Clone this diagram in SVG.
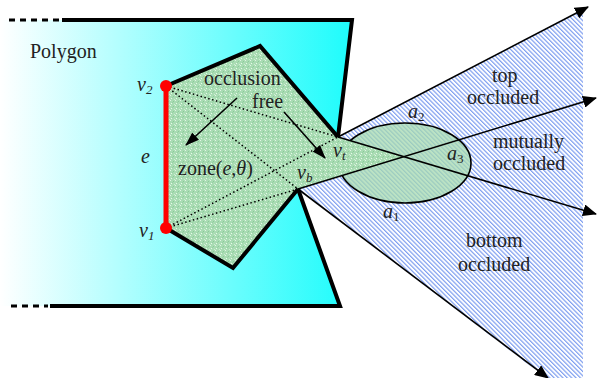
<svg xmlns="http://www.w3.org/2000/svg" width="597" height="378" viewBox="0 0 597 378">
<defs>
<linearGradient id="cyanGrad" x1="0" y1="0" x2="350" y2="0" gradientUnits="userSpaceOnUse">
<stop offset="0" stop-color="#ffffff"/>
<stop offset="1" stop-color="#1ffcfc"/>
</linearGradient>
<pattern id="hatch" patternUnits="userSpaceOnUse" width="3.1" height="3.1" patternTransform="rotate(-45)">
<rect x="0" y="0" width="3.1" height="3.1" fill="#ffffff"/>
<rect x="0" y="0" width="1.2" height="3.1" fill="#7f9ff0"/>
</pattern>
<pattern id="speckle" patternUnits="userSpaceOnUse" width="5" height="5">
<rect width="5" height="5" fill="#a9dcb3"/>
<rect x="0" y="0" width="1" height="1" fill="#e2f4e5"/>
<rect x="3" y="1" width="1" height="1" fill="#8cc99a"/>
<rect x="1" y="3" width="1" height="1" fill="#e8f7ea"/>
<rect x="4" y="4" width="1" height="1" fill="#d0ecd5"/>
<rect x="2" y="2" width="1" height="1" fill="#95d0a3"/>
</pattern>
<marker id="arrow" viewBox="0 0 14 10" refX="13" refY="5" markerWidth="14" markerHeight="10" markerUnits="userSpaceOnUse" orient="auto">
<path d="M0,0 L14,5 L0,10 Z" fill="#000"/>
</marker>
<marker id="arrowS" viewBox="0 0 14 12" refX="13" refY="6" markerWidth="14" markerHeight="12" markerUnits="userSpaceOnUse" orient="auto">
<path d="M0,0 L14,6 L0,12 Z" fill="#000"/>
</marker>
</defs>
<style>
text{font-family:"Liberation Serif","DejaVu Serif",serif;font-size:20px;fill:#222}
.it{font-style:italic}
.sub{font-size:13px}
.thick{fill:none;stroke:#000;stroke-width:4;stroke-linejoin:miter}
.ray{fill:none;stroke:#000;stroke-width:1.6}
.dot{fill:none;stroke:#000;stroke-width:1.5;stroke-dasharray:1.5 2.5}
.dash{fill:none;stroke:#000;stroke-width:3;stroke-dasharray:6 5}
</style>

<g id="occluded-region">
<polygon points="338,137 583,9.6 583,378 546,378 298,189" fill="url(#hatch)"/>
</g>

<g id="polygon">
<polygon points="0,20 352,20 338,137 298,189 340,306 0,306" fill="url(#cyanGrad)"/>
<polyline class="thick" points="62,20 352,20 338,137"/>
<polyline class="thick" points="298,189 340,306 50,306"/>
<line class="dash" x1="9" y1="20" x2="60" y2="20"/>
<line class="dash" x1="11" y1="306" x2="48" y2="306"/>
<text x="30" y="58">Polygon</text>
</g>

<g id="ellipse">
<ellipse cx="405" cy="163" rx="66" ry="40" fill="#a6dab0" fill-opacity="0.75" stroke="#000" stroke-width="1.6"/>
</g>

<g id="zone">
<polygon points="166,86 260,46 338,137 404,157 298,189 233,268 166,228" fill="url(#speckle)"/>
<polyline class="thick" points="166,86 260,46 338,137"/>
<polyline class="thick" points="298,189 233,268 166,228"/>
</g>

<g id="connectors">
<line class="dot" x1="166" y1="86" x2="338" y2="137"/>
<line class="dot" x1="166" y1="86" x2="298" y2="189"/>
<line class="dot" x1="166" y1="228" x2="338" y2="137"/>
<line class="dot" x1="166" y1="228" x2="298" y2="189"/>
<line class="ray" x1="338" y1="137" x2="588" y2="7" marker-end="url(#arrowS)"/>
<line class="ray" x1="298" y1="189" x2="596" y2="98" marker-end="url(#arrowS)"/>
<line class="ray" x1="338" y1="137" x2="596" y2="214" marker-end="url(#arrowS)"/>
<line class="ray" x1="298" y1="189" x2="548" y2="378" marker-end="url(#arrowS)"/>
<line class="ray" x1="237" y1="98" x2="186" y2="145" marker-end="url(#arrow)"/>
<line class="ray" x1="284" y1="112" x2="325" y2="158" marker-end="url(#arrow)"/>
</g>

<g id="edge-e">
<line x1="166" y1="86" x2="166" y2="228" stroke="#ff0000" stroke-width="5"/>
<circle cx="166" cy="86" r="6" fill="#ff0000"/>
<circle cx="166" cy="228" r="6" fill="#ff0000"/>
</g>

<g id="labels">
<text class="it" x="137" y="91">v<tspan class="sub" dy="3">2</tspan></text>
<text class="it" x="139" y="237">v<tspan class="sub" dy="3">1</tspan></text>
<text class="it" x="141" y="163">e</text>
<text x="204" y="85">occlusion</text>
<text x="252" y="108">free</text>
<text x="178" y="175">zone(<tspan class="it">e</tspan>,<tspan class="it">θ</tspan>)</text>
<text class="it" x="333" y="157">v<tspan class="sub" dy="3">t</tspan></text>
<text class="it" x="297" y="179">v<tspan class="sub" dy="3">b</tspan></text>
<text x="408" y="118"><tspan class="it">a</tspan><tspan class="sub" dy="3">2</tspan></text>
<text x="447" y="160"><tspan class="it">a</tspan><tspan class="sub" dy="3">3</tspan></text>
<text x="383" y="218"><tspan class="it">a</tspan><tspan class="sub" dy="3">1</tspan></text>
<text x="492" y="82">top</text>
<text x="467" y="104">occluded</text>
<text x="493" y="148">mutually</text>
<text x="493" y="170">occluded</text>
<text x="466" y="247">bottom</text>
<text x="458" y="271">occluded</text>
</g>
</svg>
